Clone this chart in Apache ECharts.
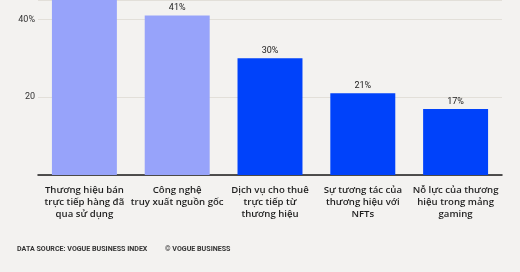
<!DOCTYPE html>
<html><head><meta charset="utf-8">
<script src="https://cdn.jsdelivr.net/npm/echarts@6/dist/echarts.min.js"></script>
<style>html,body{margin:0;padding:0;background:#f3f2f0}#c{width:520px;height:272px}</style>
</head><body><div id="c"></div>
<script>
const categories = ["Thương hiệu bán\ntrực tiếp hàng đã\nqua sử dụng", "Công nghệ\ntruy xuất nguồn gốc", "Dịch vụ cho thuê\ntrực tiếp từ\nthương hiệu", "Sự tương tác của\nthương hiệu với\nNFTs", "Nỗ lực của thương\nhiệu trong mảng\ngaming"];
const values = [45, 41, 30, 21, 17];
const barColors = ["#97a3fa", "#97a3fa", "#0042fa", "#0042fa", "#0042fa"];
const yTickLabels = {20: "20", 40: "40%"};

const chart = echarts.init(document.getElementById('c'), null, {renderer: 'canvas'});
chart.setOption({
  backgroundColor: '#f3f2f0',
  animation: false,
  grid: {left: 38, right: 18, top: 0, bottom: 97, containLabel: false},
  xAxis: {
    type: 'category', data: categories,
    axisLine: {lineStyle: {color: '#1a1a1a', width: 1.5}},
    axisTick: {show: false},
    axisLabel: {interval: 0, margin: 9, color: '#1f1f1f', fontFamily: 'Open Sans', fontWeight: 600, fontSize: 9.6, lineHeight: 12, align: 'center', verticalAlign: 'top'}
  },
  yAxis: {
    type: 'value', min: 0, max: 45, interval: 20,
    axisLine: {show: false}, axisTick: {show: false},
    splitLine: {lineStyle: {color: '#e2dfd9', width: 1}},
    axisLabel: {margin: 3, color: '#333', fontFamily: 'Roboto', fontSize: 9,
      formatter: v => yTickLabels[v] || ''}
  },
  series: [{
    type: 'bar', data: values.map((v, i) => ({value: v, itemStyle: {color: barColors[i]}})),
    barCategoryGap: '30%',
    label: {show: true, position: 'top', distance: 3, formatter: p => p.value + '%', color: '#222', fontFamily: 'Roboto', fontSize: 9}
  }],
  graphic: [
    {type: 'text', left: 17, top: 246, style: {text: 'DATA SOURCE: VOGUE BUSINESS INDEX', fill: '#333', font: 'bold 7.1px Roboto'}},
    {type: 'text', left: 165, top: 246, style: {text: '© VOGUE BUSINESS', fill: '#333', font: 'bold 7.1px Roboto'}}
  ]
});
</script></body></html>
